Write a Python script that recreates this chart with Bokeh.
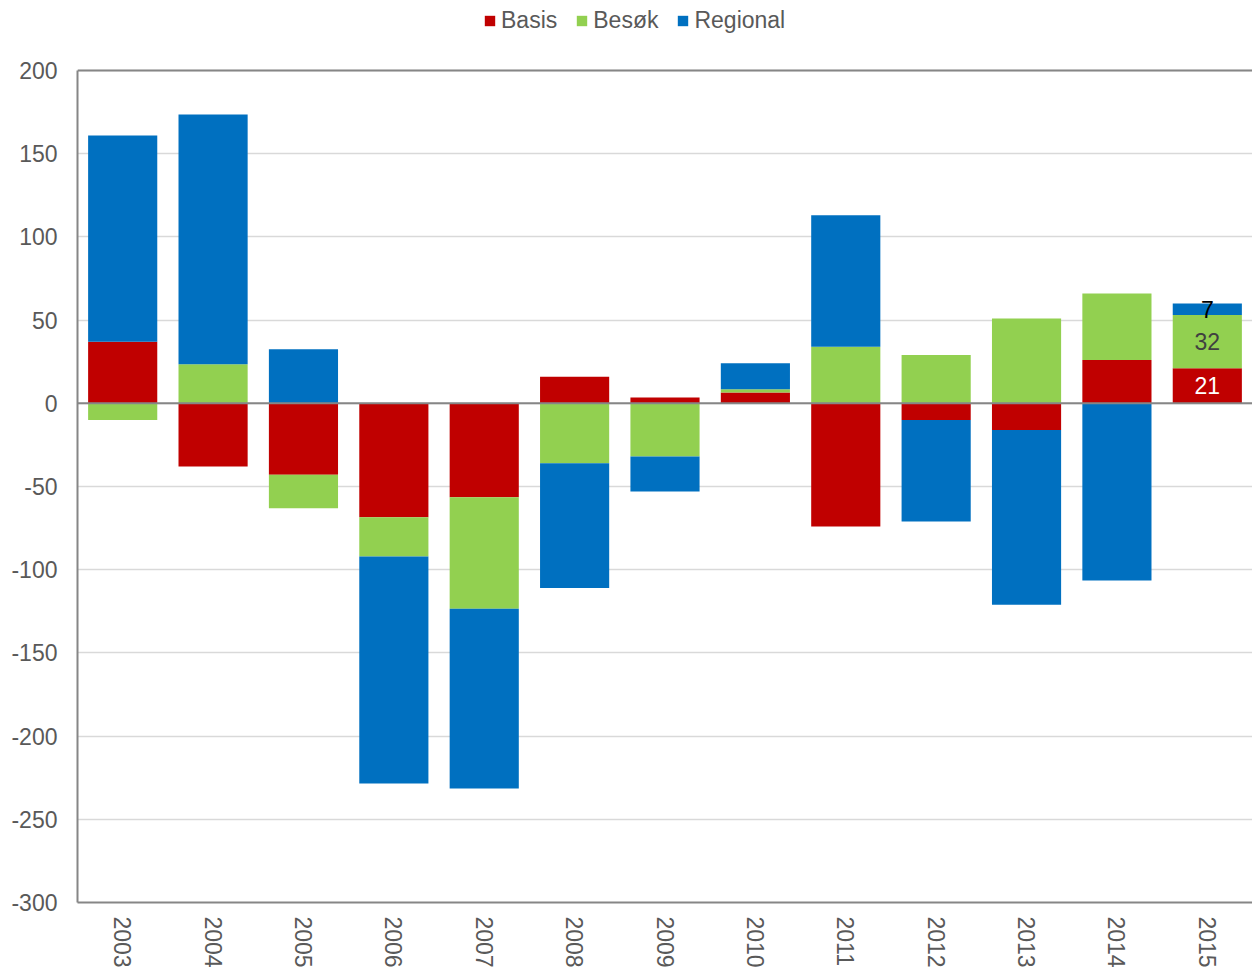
import numpy as np
from bokeh.plotting import figure
from bokeh.models import FactorRange, Span, Legend, LegendItem, ColumnDataSource
from bokeh.core.properties import value
from bokeh.embed import file_html
from bokeh.resources import INLINE

years = ["2003", "2004", "2005", "2006", "2007", "2008", "2009", "2010", "2011", "2012", "2013", "2014", "2015"]
basis = [37, -38, -43, -68.5, -56.5, 16, 3.5, 6.5, -74, -10, -16, 26, 21]
besok = [-10, 23.5, -20, -23.5, -67, -36, -32, 2, 34, 29, 51, 40, 32]
regional = [124, 150, 32.5, -136.5, -108, -75, -21, 15.5, 79, -61, -105, -106.5, 7]
series_names = ["Basis", "Besøk", "Regional"]
colors = ["#C00000", "#92D050", "#0070C0"]
y_ticks = [-300, -250, -200, -150, -100, -50, 0, 50, 100, 150, 200]
y_min, y_max = -300, 200

FONT = "Liberation Sans"
GREY = "#595959"
AXIS = "#868686"

W, H = 1252, 971
LEFT, TOP, BOTTOM = 77, 70, 69
frame_h = H - BOTTOM            # frame reaches to the top of the canvas
axis_h = frame_h - TOP          # pixel height of the value axis
top_extra = (y_max - y_min) * TOP / axis_h

p = figure(x_range=FactorRange(*years), y_range=(y_min, y_max + top_extra),
           width=W, height=H, output_backend="svg", toolbar_location=None,
           min_border_left=LEFT, min_border_right=0, min_border_top=0, min_border_bottom=BOTTOM)

pos = np.zeros(len(years))
neg = np.zeros(len(years))
renderers = []
for name, vals, col in zip(series_names, [basis, besok, regional], colors):
    v = np.array(vals, dtype=float)
    bottom = np.where(v >= 0, pos, neg)
    top = bottom + v
    pos = np.where(v >= 0, top, pos)
    neg = np.where(v < 0, top, neg)
    src = ColumnDataSource(dict(x=years, bottom=bottom, top=top))
    r = p.vbar(x="x", bottom="bottom", top="top", width=0.765, source=src,
               fill_color=col, line_color=None)
    renderers.append(r)

# data labels for 2015
last = len(years) - 1
b, s, rg = basis[last], besok[last], regional[last]
lab_y = [b / 2, b + s / 2, b + s + rg / 2]
lab_t = [str(int(round(b))), str(int(round(s))), str(int(round(rg)))]
lab_c = ["#FFFFFF", "#404040", "#000000"]
p.text(x=[years[last]] * 3, y=lab_y, text=lab_t, text_color=lab_c,
       text_font=value(FONT), text_font_size="23px", text_align="center", text_baseline="middle")

p.add_layout(Span(location=0, dimension="width", line_color=AXIS, line_width=2))
p.add_layout(Span(location=y_max, dimension="width", line_color=AXIS, line_width=2))

p.yaxis.ticker = y_ticks
p.yaxis.bounds = (y_min, y_max)
p.yaxis.major_label_overrides = {t: str(t) for t in y_ticks}
p.ygrid.grid_line_color = "#D9D9D9"
p.ygrid.grid_line_width = 1.5
p.xgrid.grid_line_color = None
for ax in (p.xaxis, p.yaxis):
    ax.axis_line_color = AXIS
    ax.axis_line_width = 2
    ax.major_tick_line_color = None
    ax.minor_tick_line_color = None
    ax.major_label_text_font = FONT
    ax.major_label_text_font_size = "23px"
    ax.major_label_text_color = GREY
p.yaxis.major_label_standoff = 14
p.xaxis.major_label_orientation = -np.pi / 2
p.xaxis.major_label_standoff = 8
p.outline_line_color = None

legend = Legend(items=[LegendItem(label=n, renderers=[r]) for n, r in zip(series_names, renderers)],
                orientation="horizontal", location=(406, frame_h - 34),
                label_text_font=FONT, label_text_font_size="23px", label_text_color=GREY,
                glyph_width=13, glyph_height=13, label_standoff=5, spacing=18,
                label_height=20, padding=0, margin=0, border_line_color=None,
                background_fill_alpha=0)
p.add_layout(legend, "center")

open("out.html", "w").write(file_html(p, INLINE))
